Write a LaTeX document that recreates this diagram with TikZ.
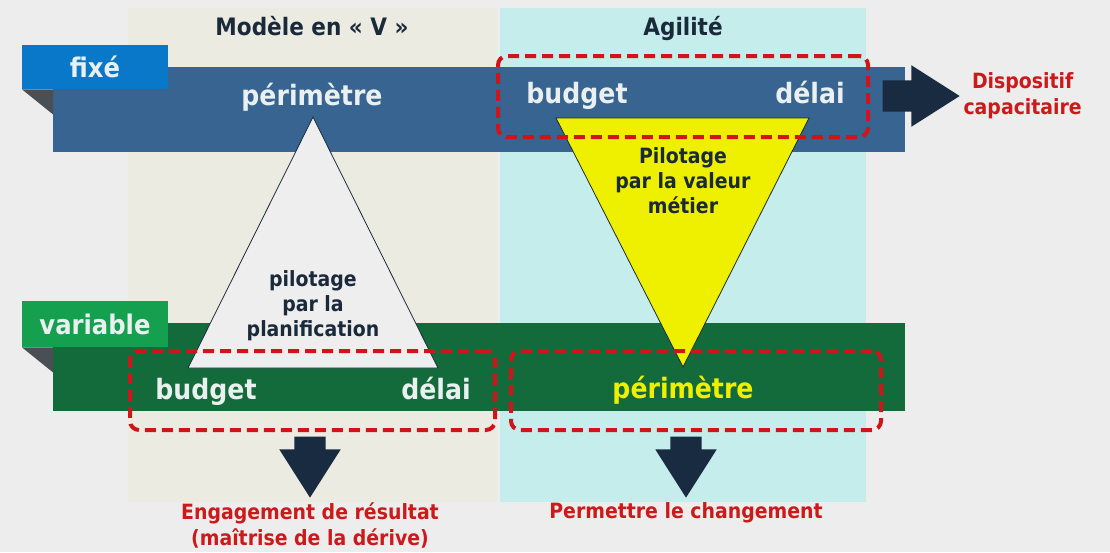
\documentclass[tikz,border=0pt]{standalone}
\usepackage{fontspec}
\usepackage{xcolor}
\usetikzlibrary{positioning,shapes.arrows}
\newfontfamily\dvc{DejaVuSansCondensed-Bold.ttf}
\definecolor{bgcol}{RGB}{237,237,237}
\definecolor{beigecol}{RGB}{236,235,225}
\definecolor{cyancol}{RGB}{197,237,235}
\definecolor{bandblue}{RGB}{55,100,144}
\definecolor{tabblue}{RGB}{10,120,200}
\definecolor{bandgreen}{RGB}{19,107,59}
\definecolor{tabgreen}{RGB}{21,160,79}
\definecolor{foldgrey}{RGB}{74,79,85}
\definecolor{dashred}{RGB}{208,20,26}
\definecolor{navy}{RGB}{24,43,64}
\definecolor{txtdark}{RGB}{27,42,59}
\definecolor{txtred}{RGB}{204,26,26}
\definecolor{txtlight}{RGB}{234,240,240}
\definecolor{triyellow}{RGB}{238,240,0}
\definecolor{triwhite}{RGB}{238,238,238}

\begin{document}
\begin{tikzpicture}[
    x=1pt, y=-1pt, font=\dvc,
    column/.style={rectangle, inner sep=0pt, anchor=north west},
    band/.style={rectangle, inner sep=0pt, anchor=north west, minimum width=852pt},
    tab/.style={rectangle, inner sep=0pt, anchor=north west, minimum width=146pt},
    tablabel/.style={anchor=base, text=txtlight, font=\dvc\fontsize{27}{30}\selectfont},
    title/.style={anchor=base, text=txtdark, font=\dvc\fontsize{24}{28}\selectfont},
    bandlabel/.style={anchor=base, text=txtlight, font=\dvc\fontsize{28}{32}\selectfont},
    trilabel/.style={text=txtdark, align=center, font=\dvc\fontsize{21}{25}\selectfont},
    redlabel/.style={text=txtred, align=center, font=\dvc\fontsize{21}{26}\selectfont},
    tri/.style={draw=txtdark, line width=0.8pt, line join=miter},
    dashbox/.style={rectangle, draw=dashred, line width=4pt, rounded corners=9pt,
                    dash pattern=on 11pt off 6pt, inner sep=0pt, anchor=north west},
    bigarrow/.style={single arrow, fill=navy, inner xsep=0pt, inner ysep=15.5pt,
                     minimum width=61pt, single arrow head extend=15pt,
                     single arrow tip angle=65, anchor=tip}
]
    \fill[bgcol] (0,0) rectangle (1110,552);
    \useasboundingbox (0,0) rectangle (1110,552);

    % columns
    \node[column, fill=beigecol, minimum width=369pt, minimum height=494pt] (colV) at (128,8) {};
    \node[column, fill=cyancol, minimum width=366pt, minimum height=494pt] (colA) at (500,8) {};
    \node[title] (titleV) at (312,35) {Modèle en « V »};
    \node[title] (titleA) at (683,35) {Agilité};

    % bands
    \node[band, fill=bandblue, minimum height=85pt] (fixband) at (53,67) {};
    \node[band, fill=bandgreen, minimum height=88pt] (varband) at (53,323) {};

    % triangles
    \coordinate (wA) at (313,117);
    \coordinate (wL) at (188,368);
    \coordinate (wR) at (438,368);
    \filldraw[tri, fill=triwhite] (wA) -- (wL) -- (wR) -- cycle;
    \coordinate (yL) at (556,118);
    \coordinate (yR) at (809,118);
    \coordinate (yT) at (683,367);
    \filldraw[tri, fill=triyellow] (yL) -- (yR) -- (yT) -- cycle;
    \node[trilabel] (pilotV) at (313,306) {pilotage\\par la\\planification};
    \node[trilabel] (pilotA) at (683,181) {Pilotage\\par la valeur\\métier};

    % tabs
    \node[tab, fill=tabblue, minimum height=44pt] (fixtab) at (22,45) {};
    \node[tab, fill=tabgreen, minimum height=46pt] (vartab) at (22,301) {};
    \node[tablabel] at (95,77) {fixé};
    \node[tablabel] at (95,334) {variable};
    \fill[foldgrey] (fixtab.south west) -- (fixtab.south west -| fixband.west) -- ++(0,25) -- cycle;
    \fill[foldgrey] (vartab.south west) -- (vartab.south west -| varband.west) -- ++(0,25) -- cycle;

    % band labels
    \node[bandlabel] (perimV) at (312,105) {périmètre};
    \node[bandlabel] (budgetA) at (577,103) {budget};
    \node[bandlabel] (delaiA) at (810,103) {délai};
    \node[bandlabel] (budgetV) at (206,399) {budget};
    \node[bandlabel] (delaiV) at (436,399) {délai};
    \node[bandlabel, text=triyellow] (perimA) at (683,398) {périmètre};

    % dashed groups
    \node[dashbox, minimum width=370pt, minimum height=81pt] (grpTop) at (496,54) {};
    \node[dashbox, minimum width=365pt, minimum height=79pt] (grpV) at (128,349) {};
    \node[dashbox, minimum width=370pt, minimum height=79pt] (grpA) at (509,349) {};

    % arrows and results
    \node[bigarrow, minimum height=77pt] (arrR) at (960,96) {};
    \node[bigarrow, minimum height=61pt, rotate=-90] (arrV) at (310,498) {};
    \node[bigarrow, minimum height=61pt, rotate=-90] (arrA) at (686,498) {};
    \node[redlabel, right=0pt of arrR.tip] (resR) {Dispositif\\capacitaire};
    \node[redlabel, below=1pt of arrV.tip] (resV) {Engagement de résultat\\(maîtrise de la dérive)};
    \node[redlabel, below=1pt of arrA.tip] (resA) {Permettre le changement};
\end{tikzpicture}
\end{document}
